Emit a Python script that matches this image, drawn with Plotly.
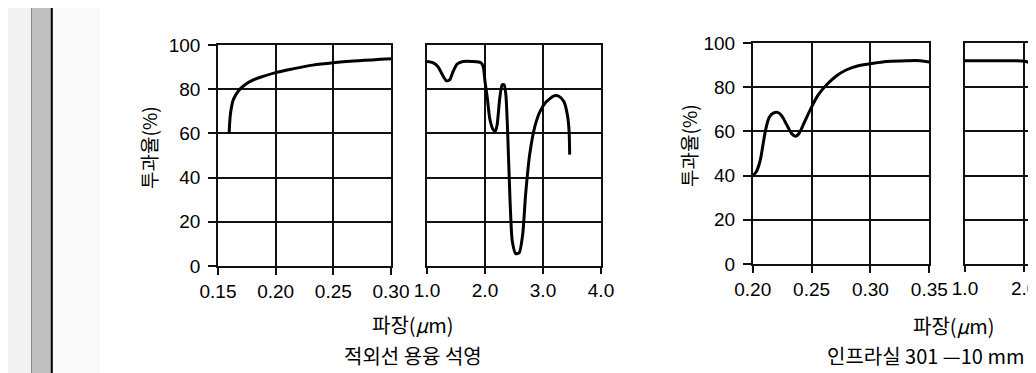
import plotly.graph_objects as go

# ---- data ----
# Panel 1: 적외선 용융 석영, UV region (µm)
p1_x = [0.1597, 0.160, 0.1611, 0.1634, 0.1677, 0.1734, 0.1806, 0.1891, 0.200, 0.2149, 0.232, 0.250, 0.272, 0.300]
p1_y = [60, 63.8, 70, 75.4, 79.2, 82, 84.2, 85.8, 87.5, 89.2, 90.9, 92, 92.9, 93.8]

# Panel 2: 적외선 용융 석영, IR region (µm)
p2_x = [1.0, 1.10, 1.19, 1.265, 1.334, 1.39, 1.45, 1.52, 1.62, 1.79, 1.93, 1.97, 2.0, 2.04, 2.08, 2.14,
        2.18, 2.21, 2.255, 2.295, 2.33, 2.36, 2.39, 2.43, 2.47, 2.53, 2.59, 2.65, 2.70, 2.77, 2.86, 2.95,
        3.06, 3.19, 3.28, 3.36, 3.42, 3.45, 3.46]
p2_y = [92.5, 92.0, 90.2, 86.5, 83.8, 84.2, 88, 91.4, 92.5, 92.5, 92, 90.2, 83.5, 76, 67, 61.7,
        61, 64, 76, 82, 82, 77.4, 61, 30.8, 11.3, 5.6, 6, 14.3, 32.3, 50.4, 63.2, 70,
        74.4, 77, 76.7, 74.4, 68.4, 61, 50.4]

# Panel 3: 인프라실 301, UV region (µm)
p3_x = [0.200, 0.2028, 0.2062, 0.209, 0.2113, 0.2142, 0.2175, 0.2212, 0.2246, 0.2289, 0.2331, 0.2365,
        0.2396, 0.2436, 0.250, 0.2558, 0.2628, 0.2713, 0.2798, 0.2897, 0.300, 0.3138, 0.3308, 0.3421, 0.350]
p3_y = [40.1, 41.5, 46.5, 54.8, 61.5, 66.5, 68.3, 68.6, 67.1, 63, 59, 57.8,
        59.3, 63.8, 71, 76.6, 81.1, 85.2, 87.9, 89.7, 90.6, 91.6, 92, 92, 91.4]

# Panel 4: 인프라실 301, IR region (µm) - visible part only
p4_x = [1.0, 1.5, 1.95, 2.0, 2.07, 2.16, 2.2]
p4_y = [92, 92, 91.9, 91.8, 91.3, 90.4, 89.7]

y_ticks = [0, 20, 40, 60, 80, 100]
p1_ticks = [0.15, 0.20, 0.25, 0.30]
p1_labels = ["0.15", "0.20", "0.25", "0.30"]
p2_ticks = [1.0, 2.0, 3.0, 4.0]
p2_labels = ["1.0", "2.0", "3.0", "4.0"]
p3_ticks = [0.20, 0.25, 0.30, 0.35]
p3_labels = ["0.20", "0.25", "0.30", "0.35"]
p4_ticks = [1.0, 2.0]
p4_labels = ["1.0", "2.0"]

y_title = "투과율(%)"
x_title = "파장(<i>μ</i>m)"
left_caption = "적외선 용융 석영"
right_caption = "인프라실 301 —10 mm"

# ---- figure ----
# the page adds an 8px body margin, so the figure is laid out in page pixels minus 8
OFF = 8
W, H = 1028, 365
def px(x):
    return (x - OFF) / W
def py(y):
    return 1 - (y - OFF) / H

LINE = dict(color="black", width=3)
fig = go.Figure()
fig.add_trace(go.Scatter(x=p1_x, y=p1_y, mode="lines", line=dict(LINE, shape="spline"), xaxis="x", yaxis="y"))
fig.add_trace(go.Scatter(x=p2_x, y=p2_y, mode="lines", line=dict(LINE, shape="spline", smoothing=0.6), xaxis="x2", yaxis="y2"))
fig.add_trace(go.Scatter(x=p3_x, y=p3_y, mode="lines", line=dict(LINE, shape="spline"), xaxis="x3", yaxis="y3"))
fig.add_trace(go.Scatter(x=p4_x, y=p4_y, mode="lines", line=dict(LINE, shape="spline"), xaxis="x4", yaxis="y4"))

TICKFONT = dict(family="Liberation Sans, Arial, sans-serif", size=19, color="black")
GRID = dict(showgrid=True, gridcolor="#111", gridwidth=1.5, zeroline=False,
            showline=True, linecolor="#111", linewidth=1.5, tickfont=TICKFONT,
            tickcolor="#111", tickwidth=1.5, automargin=False)

ydomA = [py(266), py(45)]
ydomB = [py(264), py(43)]

fig.update_layout(
    width=W, height=H, margin=dict(l=0, r=0, t=0, b=0, pad=0, autoexpand=False),
    paper_bgcolor="white", plot_bgcolor="white", showlegend=False,
    xaxis=dict(GRID, domain=[px(218), px(391)], range=[0.15, 0.30], tickvals=p1_ticks, ticktext=p1_labels,
               ticks="outside", ticklen=7, mirror=True, anchor="y"),
    yaxis=dict(GRID, domain=ydomA, range=[0, 100], tickvals=y_ticks, ticks="outside", ticklen=8,
               ticklabelstandoff=4, mirror=True, anchor="x"),
    xaxis2=dict(GRID, domain=[px(427), px(601)], range=[1.0, 4.0], tickvals=p2_ticks, ticktext=p2_labels,
                ticks="outside", ticklen=6, mirror=True, anchor="y2"),
    yaxis2=dict(GRID, domain=ydomA, range=[0, 100], tickvals=y_ticks, showticklabels=False, ticks="",
                mirror=True, anchor="x2"),
    xaxis3=dict(GRID, domain=[px(752.7), px(929.3)], range=[0.20, 0.35], tickvals=p3_ticks, ticktext=p3_labels,
                ticks="outside", ticklen=7, mirror=True, anchor="y3"),
    yaxis3=dict(GRID, domain=ydomB, range=[0, 100], tickvals=y_ticks, ticks="outside", ticklen=8,
                ticklabelstandoff=4, mirror=True, anchor="x3"),
    xaxis4=dict(GRID, domain=[px(965), 1.0], range=[1.0, 2.2], tickvals=p4_ticks, ticktext=p4_labels,
                ticks="outside", ticklen=6, mirror=True, anchor="y4", ticklabeloverflow="allow"),
    yaxis4=dict(GRID, domain=ydomB, range=[0, 100], tickvals=y_ticks, showticklabels=False, ticks="",
                mirror=False, anchor="x4"),
)

KFONT = dict(family="Noto Sans CJK KR, sans-serif", size=20, color="black")
ANN = dict(xref="paper", yref="paper", showarrow=False, xanchor="center", yanchor="middle")
fig.add_annotation(ANN, text=y_title, x=px(148), y=py(148), textangle=-90, font=dict(KFONT, size=19))
fig.add_annotation(ANN, text=y_title, x=px(688), y=py(146), textangle=-90, font=dict(KFONT, size=19))
fig.add_annotation(ANN, text=x_title, x=px(412), y=py(324), font=KFONT)
fig.add_annotation(ANN, text=x_title, x=px(953), y=py(325), font=KFONT)
fig.add_annotation(ANN, text=left_caption, x=px(413), y=py(355), font=KFONT)
fig.add_annotation(ANN, text=right_caption, x=px(825), y=py(355), font=KFONT, xanchor="left")

# left window-frame strip
fig.add_shape(type="rect", xref="paper", yref="paper", x0=0, x1=px(31), y0=0, y1=1,
              fillcolor="#f3f3f3", line=dict(width=0), layer="below")
fig.add_shape(type="rect", xref="paper", yref="paper", x0=px(52.7), x1=px(100), y0=0, y1=1,
              fillcolor="#f9f9f9", line=dict(width=0), layer="below")
fig.add_shape(type="rect", xref="paper", yref="paper", x0=px(31), x1=px(51), y0=0, y1=1,
              fillcolor="#c0c0c0", line=dict(width=0), layer="below")
fig.add_shape(type="line", xref="paper", yref="paper", x0=px(31.5), x1=px(31.5), y0=0, y1=1,
              line=dict(color="#8a8a8a", width=1))
fig.add_shape(type="line", xref="paper", yref="paper", x0=px(51.8), x1=px(51.8), y0=0, y1=1,
              line=dict(color="black", width=2))

fig.write_html("out.html")
